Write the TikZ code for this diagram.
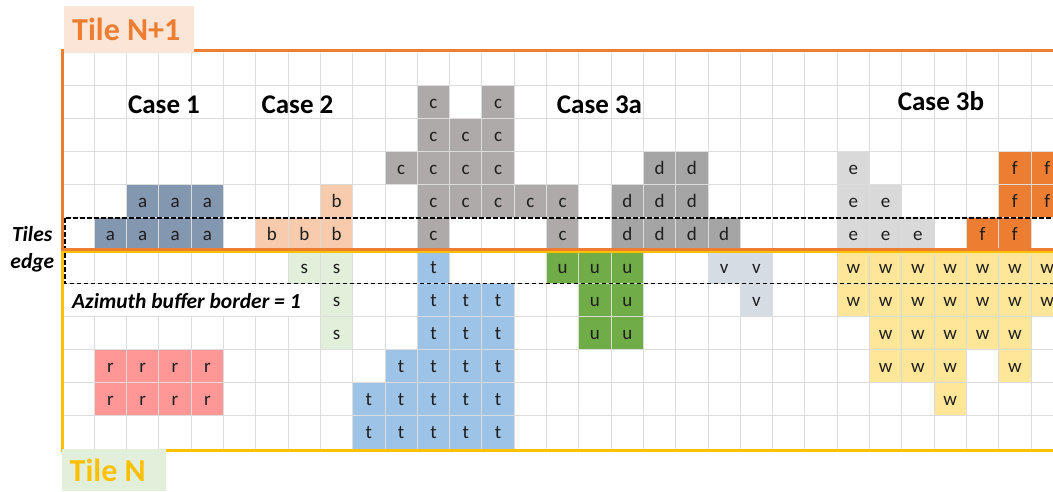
\documentclass[tikz,border=0pt]{standalone}
\usepackage{fontspec}
\setmainfont{Carlito}
\definecolor{gridc}{HTML}{DCDCDC}
\definecolor{acol}{HTML}{8497B0}
\definecolor{bcol}{HTML}{F8CBAD}
\definecolor{ccol}{HTML}{AEAAAA}
\definecolor{dcol}{HTML}{A5A5A5}
\definecolor{ecol}{HTML}{D9D9D9}
\definecolor{fcol}{HTML}{ED7D31}
\definecolor{rcol}{HTML}{FF9797}
\definecolor{scol}{HTML}{E2EFDA}
\definecolor{tcol}{HTML}{9DC3E6}
\definecolor{ucol}{HTML}{70AD47}
\definecolor{vcol}{HTML}{D6DCE4}
\definecolor{wcol}{HTML}{FFE699}
\definecolor{orangeline}{HTML}{ED7D31}
\definecolor{yellowline}{HTML}{FFC000}
\definecolor{peachbox}{HTML}{FBE5D6}
\definecolor{greenbox}{HTML}{E2EFDA}
\definecolor{txtc}{HTML}{1E1E1E}
\tikzset{
  celltxt/.style={anchor=base, inner sep=0pt, text=txtc, font=\fontsize{19}{19}\selectfont},
  caselbl/.style={anchor=base, inner sep=0pt, font=\fontsize{27}{27}\selectfont\bfseries},
  sidelbl/.style={inner sep=0pt, font=\fontsize{21.5}{21.5}\selectfont\bfseries\itshape},
  tilelbl/.style={anchor=base west, inner sep=0pt, font=\fontsize{32}{32}\selectfont\bfseries},
  gridline/.style={draw=gridc, line width=1pt},
  edgebox/.style={draw=black, line width=1.5pt, dash pattern=on 4.5pt off 2.5pt},
}
\newcommand\mycell[4]{%
  \fill[#3] ({62+32.3*#1},{52.5+33*#2}) rectangle ({62+32.3*(#1+1)},{52.5+33*(#2+1)});
  \node[celltxt] (cell-#1-#2) at ({62+32.3*(#1+0.5)},{52.5+33*#2+23.3}) {#4};
}
\begin{document}
\begin{tikzpicture}[x=1pt,y=-1pt]
\useasboundingbox (0,0) rectangle (1053,491);
\clip (0,0) rectangle (1053,491);
% coloured cells
\foreach \cx/\ry in {2/4,3/4,4/4,1/5,2/5,3/5,4/5} {\mycell{\cx}{\ry}{acol}{a}}
\foreach \cx/\ry in {8/4,6/5,7/5,8/5} {\mycell{\cx}{\ry}{bcol}{b}}
\foreach \cx/\ry in {11/1,13/1,11/2,12/2,13/2,10/3,11/3,12/3,13/3,11/4,12/4,13/4,14/4,15/4,11/5,15/5} {\mycell{\cx}{\ry}{ccol}{c}}
\foreach \cx/\ry in {18/3,19/3,17/4,18/4,19/4,17/5,18/5,19/5,20/5} {\mycell{\cx}{\ry}{dcol}{d}}
\foreach \cx/\ry in {24/3,24/4,25/4,24/5,25/5,26/5} {\mycell{\cx}{\ry}{ecol}{e}}
\foreach \cx/\ry in {29/3,30/3,29/4,30/4,28/5,29/5} {\mycell{\cx}{\ry}{fcol}{f}}
\foreach \cx/\ry in {7/6,8/6,8/7,8/8} {\mycell{\cx}{\ry}{scol}{s}}
\foreach \cx/\ry in {11/6,11/7,12/7,13/7,11/8,12/8,13/8,10/9,11/9,12/9,13/9,9/10,10/10,11/10,12/10,13/10,9/11,10/11,11/11,12/11,13/11} {\mycell{\cx}{\ry}{tcol}{t}}
\foreach \cx/\ry in {15/6,16/6,17/6,16/7,17/7,16/8,17/8} {\mycell{\cx}{\ry}{ucol}{u}}
\foreach \cx/\ry in {20/6,21/6,21/7} {\mycell{\cx}{\ry}{vcol}{v}}
\foreach \cx/\ry in {24/6,25/6,26/6,27/6,28/6,29/6,30/6,24/7,25/7,26/7,27/7,28/7,29/7,30/7,25/8,26/8,27/8,28/8,29/8,25/9,26/9,27/9,29/9,27/10} {\mycell{\cx}{\ry}{wcol}{w}}
\foreach \cx/\ry in {1/9,2/9,3/9,4/9,1/10,2/10,3/10,4/10} {\mycell{\cx}{\ry}{rcol}{r}}
% grid
\foreach \k in {1,...,30} {\draw[gridline] ({62+32.3*\k},52.5) -- ({62+32.3*\k},448.5);}
\foreach \j in {1,...,11} {\draw[gridline] (62,{52.5+33*\j}) -- (1053,{52.5+33*\j});}
% azimuth label (white backing)
\fill[white] (63.5,284.2) rectangle (319.8,316);
\node[sidelbl, anchor=base west] (azimuth) at (72,308.3) {Azimuth buffer border = 1};
% case labels
\node[caselbl] (case1) at (164,113.3) {Case 1};
\node[caselbl] (case2) at (297.5,113.3) {Case 2};
\node[caselbl] (case3a) at (599.5,113.3) {Case 3a};
\node[caselbl] (case3b) at (941,110.5) {Case 3b};
% tiles edge label
\node[sidelbl, anchor=base east] (tiles) at (52.5,241.7) {Tiles};
\node[sidelbl, anchor=base east] (edge) at (54.5,268.3) {edge};
% dashed buffer box
\draw[edgebox] (64.8,218.2) rectangle (1070,283.4);
% tile borders
\draw[orangeline, line width=3pt] (194,50.5) -- (1053,50.5);
\draw[orangeline, line width=3pt] (62.3,49) -- (62.3,251);
\draw[yellowline, line width=3pt] (62.3,251) -- (62.3,451.5);
\draw[yellowline, line width=3pt] (62,450) -- (1053,450);
\draw[orangeline, line width=2.7pt] (62,249.6) -- (1053,249.6);
\draw[yellowline, line width=2.5pt] (62,252.2) -- (1053,252.2);
% tile label boxes
\fill[peachbox] (64,6) rectangle (194,53.3);
\node[tilelbl, text=orangeline] (tileN1) at (72,40) {Tile N+1};
\fill[greenbox] (61.5,448.5) rectangle (166,491);
\node[tilelbl, text=yellowline] (tileN) at (69.5,481.7) {Tile N};
\end{tikzpicture}
\end{document}
